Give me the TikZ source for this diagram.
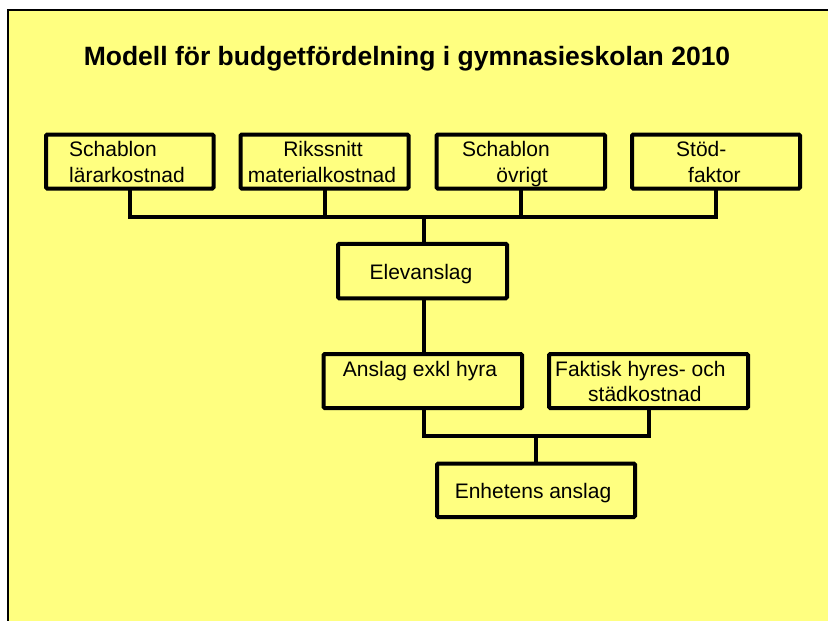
\documentclass[tikz,border=0pt]{standalone}
\usepackage{fontspec}
\setmainfont{Liberation Sans}
\definecolor{slideyellow}{RGB}{255,255,128}
\begin{document}
\begin{tikzpicture}[x=1pt,y=-1pt,
  box/.style={draw=black,line width=4pt,rounded corners=1.2pt,inner sep=0pt,outer sep=0pt,fill=slideyellow},
  conn/.style={draw=black,line width=4pt},
  lbl/.style={inner sep=0pt,font=\fontsize{21}{25}\selectfont}]
\useasboundingbox (0,0) rectangle (828,621);
\fill[white] (0,0) rectangle (828,621);
\node[draw=black,line width=2pt,fill=slideyellow,inner sep=0pt,outer sep=0pt,
  minimum width=830pt,minimum height=620pt,anchor=north west] (frame) at (8,10) {};
\node[inner sep=0pt,anchor=base,font=\bfseries\fontsize{26.5}{30}\selectfont] (title) at (407,65)
  {Modell för budgetfördelning i gymnasieskolan 2010};
% top row boxes
\node[box,minimum width=167.5pt,minimum height=54pt] (b1) at (129.75,161.5) {};
\node[box,minimum width=168pt,minimum height=54pt] (b2) at (324.5,161.5) {};
\node[box,minimum width=168.5pt,minimum height=54pt] (b3) at (520.75,161.5) {};
\node[box,minimum width=168pt,minimum height=54pt] (b4) at (716,161.5) {};
\node[box,minimum width=169pt,minimum height=54.5pt] (elev) at (422.5,271) {};
\node[box,minimum width=198.5pt,minimum height=54pt] (anslag) at (422.75,381) {};
\node[box,minimum width=199pt,minimum height=54pt] (faktisk) at (648.5,381) {};
\node[box,minimum width=198pt,minimum height=53.5pt] (enh) at (536,490.25) {};
% texts
\node[lbl,anchor=base west] (t1a) at (69,156) {Schablon};
\node[lbl,anchor=base west] (t1b) at (69,182) {lärarkostnad};
\node[lbl,anchor=base] (t2a) at (323,156) {Rikssnitt};
\node[lbl,anchor=base] (t2b) at (322,182) {materialkostnad};
\node[lbl,anchor=base west] (t3a) at (462,156) {Schablon};
\node[lbl,anchor=base east] (t3b) at (548,182) {övrigt};
\node[lbl,anchor=base west] (t4a) at (676,156) {Stöd-};
\node[lbl,anchor=base west] (t4b) at (688,182) {faktor};
\node[lbl,anchor=base] (te) at (421,279) {Elevanslag};
\node[lbl,anchor=base] (ta) at (420,376) {Anslag exkl hyra};
\node[lbl,anchor=base west] (tfa) at (555,376) {Faktisk hyres- och};
\node[lbl,anchor=base west] (tfb) at (588,401) {städkostnad};
\node[lbl,anchor=base] (tenh) at (533,498) {Enhetens anslag};
% connectors
\coordinate (j1) at (424,216.5);
\coordinate (j2) at (535.5,436);
\draw[conn] (b1.south) |- (b4.south |- j1) -- (b4.south);
\draw[conn] (b2.south) -- (b2.south |- j1);
\draw[conn] (b3.south) -- (b3.south |- j1);
\draw[conn] (j1) -- (j1 |- elev.north);
\draw[conn] (j1 |- elev.south) -- (j1 |- anslag.north);
\draw[conn] (j1 |- anslag.south) |- (faktisk.south |- j2) -- (faktisk.south);
\draw[conn] (j2) -- (j2 |- enh.north);
\end{tikzpicture}
\end{document}
